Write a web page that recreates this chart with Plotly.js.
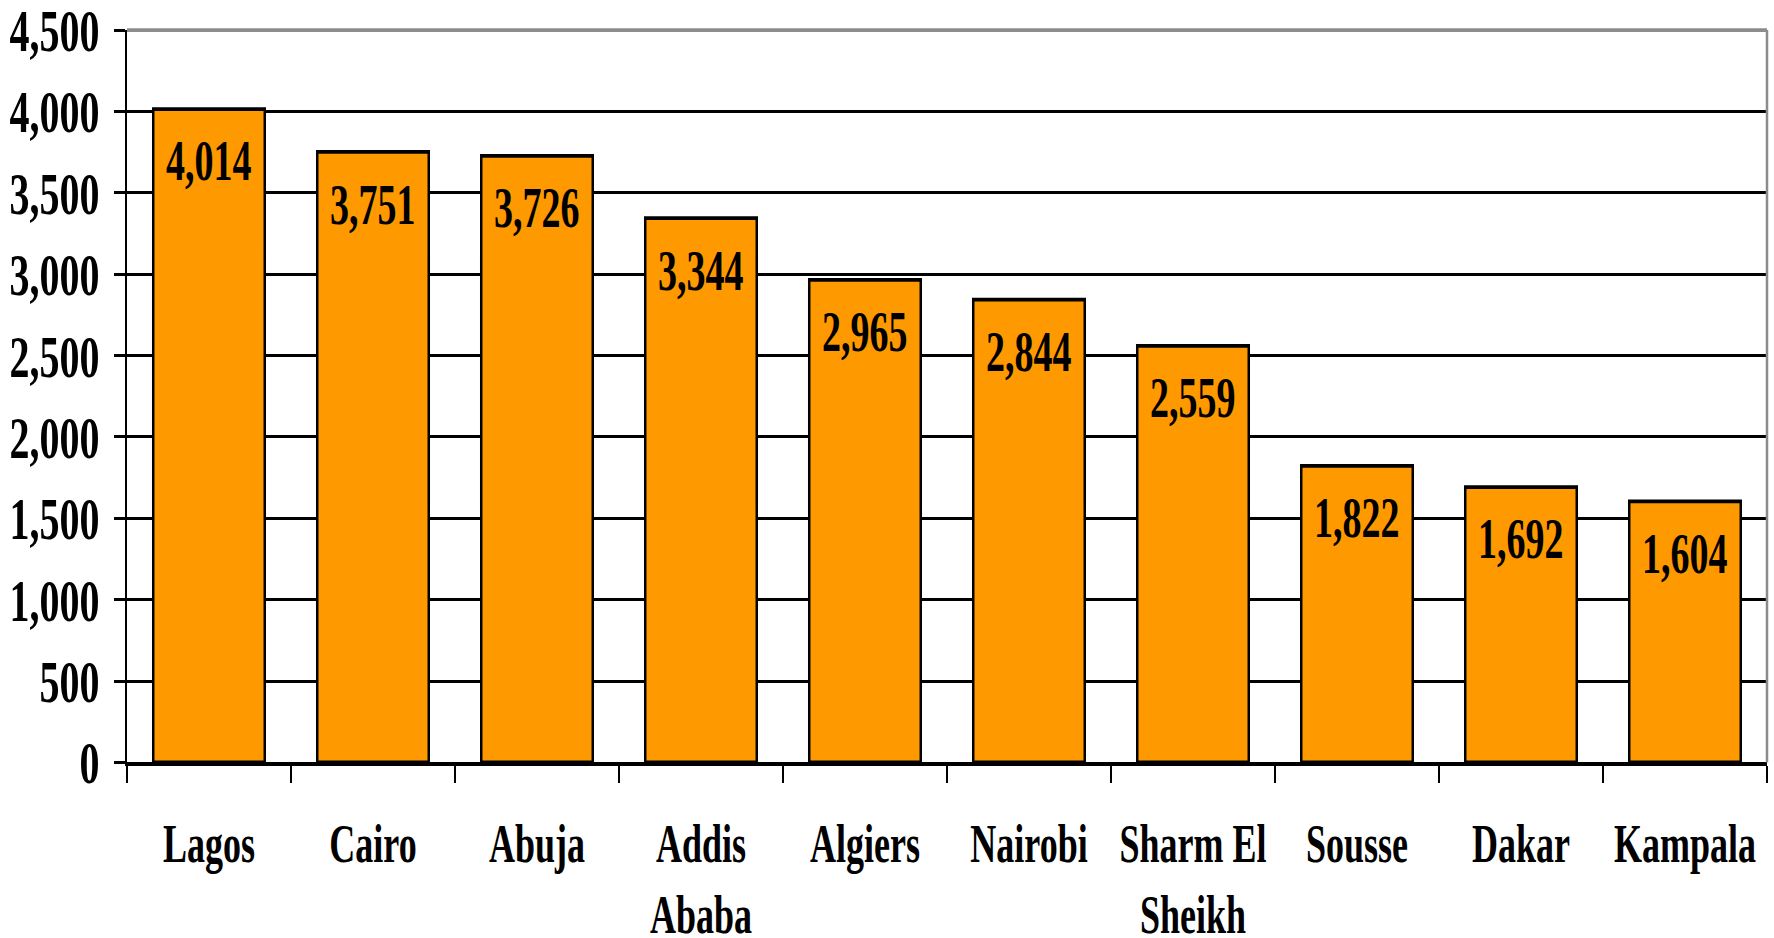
<!DOCTYPE html>
<html>
<head>
<meta charset="utf-8">
<script src="https://cdn.plot.ly/plotly-3.0.1.min.js"></script>
<style>
html,body{margin:0;padding:0;background:#fff;}
#wrap{width:1774px;height:938px;overflow:hidden;}
#plot{width:1774px;height:625px;transform:scaleY(1.5008);transform-origin:0 0;}
</style>
</head>
<body>
<div id="wrap"><div id="plot"></div></div>
<script>
const cities = ["Lagos", "Cairo", "Abuja", "Addis<br>Ababa", "Algiers", "Nairobi", "Sharm El<br>Sheikh", "Sousse", "Dakar", "Kampala"];
const values = [4014, 3751, 3726, 3344, 2965, 2844, 2559, 1822, 1692, 1604];
const yTicks = [0, 500, 1000, 1500, 2000, 2500, 3000, 3500, 4000, 4500];

const FONT = "Liberation Serif, Times New Roman, serif";

const trace = {
  type: "bar",
  x: cities,
  y: values,
  marker: {color: "#FF9900", line: {color: "#000", width: 2.5}},
  textposition: "none",
  hoverinfo: "x+y"
};

const annotations = cities.map((c, i) => ({
  x: c, y: values[i], xref: "x", yref: "y",
  text: values[i].toLocaleString("en-US"),
  showarrow: false, yanchor: "middle", yshift: -34.5,
  font: {family: FONT, size: 38, color: "#000", weight: 700}
}));

const layout = {
  width: 1774, height: 625,
  margin: {l: 127, r: 7, t: 20, b: 117},
  paper_bgcolor: "#fff", plot_bgcolor: "#fff",
  showlegend: false,
  bargap: 0.32,
  font: {family: FONT, size: 37, color: "#000", weight: 700},
  xaxis: {
    type: "category",
    tickson: "boundaries",
    ticks: "outside", ticklen: 11, tickwidth: 2, tickcolor: "#000",
    showline: true, linecolor: "#000", linewidth: 2.5,
    showgrid: false,
    ticklabelstandoff: 21,
    tickfont: {family: FONT, size: 36, color: "#000", weight: 700}
  },
  yaxis: {
    range: [0, 4500.01],
    tickvals: yTicks,
    ticktext: yTicks.map(v => v.toLocaleString("en-US")),
    ticks: "outside", ticklen: 11, tickwidth: 2, tickcolor: "#000",
    showline: true, linecolor: "#000", linewidth: 2.5,
    showgrid: true, gridcolor: "#000", gridwidth: 2,
    zeroline: false,
    ticklabelstandoff: 6,
    ticklabeloverflow: "allow",
    tickfont: {family: FONT, size: 40, color: "#000", weight: 700}
  },
  shapes: [
    {type: "line", xref: "paper", yref: "paper", x0: 0, x1: 1, y0: 1, y1: 1, line: {color: "#8c8c8c", width: 2.5}, layer: "above"},
    {type: "line", xref: "paper", yref: "paper", x0: 1, x1: 1, y0: 0, y1: 1, line: {color: "#8c8c8c", width: 2.5}, layer: "above"}
  ],
  annotations: annotations
};

Plotly.newPlot("plot", [trace], layout, {displayModeBar: false, staticPlot: true});
</script>
</body>
</html>
